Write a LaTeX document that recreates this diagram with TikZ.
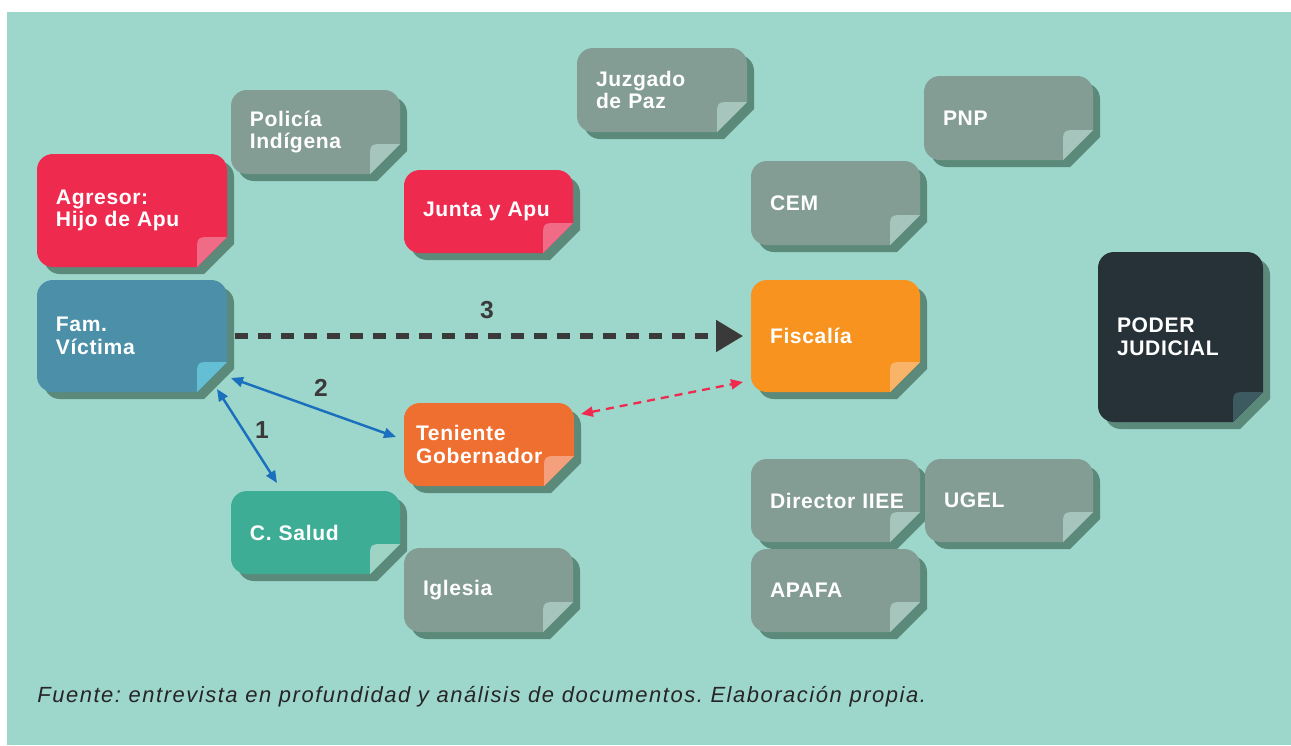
\documentclass[tikz,border=0pt]{standalone}
\usepackage{fontspec}
\setmainfont{Liberation Sans}
\newfontfamily\cardfont[LetterSpace=3]{Liberation Sans}
\newfontfamily\fuentefont[LetterSpace=7]{Liberation Sans}
\usetikzlibrary{calc,arrows.meta}
\frenchspacing

\definecolor{fondo}{HTML}{9DD6CB}
\definecolor{sombra}{HTML}{5B8A7B}
\definecolor{gris}{HTML}{839C94}
\definecolor{grisclaro}{HTML}{A6C5BC}
\definecolor{rojo}{HTML}{EE2A4F}
\definecolor{rojoclaro}{HTML}{F06B86}
\definecolor{azul}{HTML}{4B8FA8}
\definecolor{azulclaro}{HTML}{64BFD4}
\definecolor{naranja}{HTML}{F7931E}
\definecolor{naranjaclaro}{HTML}{F9B46A}
\definecolor{teniente}{HTML}{EF6F30}
\definecolor{tenienteclaro}{HTML}{F5A07C}
\definecolor{verde}{HTML}{3DAE95}
\definecolor{verdeclaro}{HTML}{9FD4C4}
\definecolor{oscuro}{HTML}{263238}
\definecolor{oscuroclaro}{HTML}{3C5A60}
\definecolor{flechaazul}{HTML}{1B70BE}
\definecolor{texto}{HTML}{3A3A3A}

\tikzset{
	card outline/.style n args={4}{
		insert path={(#1,#2+16) .. controls (#1,#2+7) and (#1+7,#2) .. (#1+16,#2)
			-- (#1+#3-16,#2) .. controls (#1+#3-7,#2) and (#1+#3,#2+7) .. (#1+#3,#2+16)
			-- (#1+#3,#2+#4-30) -- (#1+#3-30,#2+#4)
			-- (#1+16,#2+#4) .. controls (#1+7,#2+#4) and (#1,#2+#4-7) .. (#1,#2+#4-16) -- cycle}
	},
	card flap/.style n args={4}{
		insert path={(#1+#3,#2+#4-30) -- (#1+#3-15,#2+#4-30)
			.. controls (#1+#3-30,#2+#4-30) .. (#1+#3-30,#2+#4-15)
			-- (#1+#3-30,#2+#4) -- cycle}
	},
	card label/.style={
		anchor=north west,
		inner xsep=0.38cm,
		inner ysep=0pt,
		outer sep=0pt,
		text=white,
		align=left,
		font=\cardfont\bfseries\fontsize{12}{13}\selectfont
	},
	paso/.style={text=texto, font=\bfseries\fontsize{14}{14}\selectfont},
	doble azul/.style={flechaazul, line width=1.4pt,
		{Triangle[length=0.24cm,width=0.2cm]}-{Triangle[length=0.24cm,width=0.2cm]}},
	doble rojo/.style={rojo, line width=1.3pt, dash pattern=on 0.16cm off 0.12cm,
		{Triangle[length=0.24cm,width=0.2cm]}-{Triangle[length=0.24cm,width=0.2cm]}},
	paso tres/.style={texto, line width=2.9pt, dash pattern=on 0.26cm off 0.2cm,
		-{Triangle[length=0.54cm,width=0.62cm]}},
}

% \card[node options]{name}{x}{y}{width}{height}{colour}{flap colour}{text}
\newcommand{\card}[9][]{%
	\fill[sombra,shift={(7,7)}] [card outline={#3}{#4}{#5}{#6}];
	\fill[#7] [card outline={#3}{#4}{#5}{#6}];
	\fill[#8] [card flap={#3}{#4}{#5}{#6}];
	\node[card label,text width=(#5-38)*0.02cm,minimum height=#6*0.02cm,#1] (#2) at (#3,#4) {#9};
}

\begin{document}
\begin{tikzpicture}[x=0.02cm,y=-0.02cm]
\useasboundingbox (0,0) rectangle (1291,745);
\fill[fondo] (7,12) rectangle (1291,745);

% actors
\card{agresor}{37}{154}{190}{113}{rojo}{rojoclaro}{Agresor:\\Hijo de Apu}
\card{fam}{37}{280}{190}{112}{azul}{azulclaro}{Fam.\\Víctima}
\card{policia}{231}{90}{169}{84}{gris}{grisclaro}{Policía\\Indígena}
\card{junta}{404}{170}{169}{83}{rojo}{rojoclaro}{Junta y Apu}
\card{juzgado}{577}{48}{170}{84}{gris}{grisclaro}{Juzgado\\de Paz}
\card{pnp}{924}{76}{169}{84}{gris}{grisclaro}{PNP}
\card{cem}{751}{161}{169}{84}{gris}{grisclaro}{CEM}
\card{fisc}{751}{280}{169}{112}{naranja}{naranjaclaro}{Fiscalía}
\card{poder}{1098}{252}{165}{170}{oscuro}{oscuroclaro}{PODER\\JUDICIAL}
\card[inner xsep=0.24cm,text width=2.9cm]{ten}{404}{403}{170}{83}{teniente}{tenienteclaro}{Teniente\\Gobernador}
\card{salud}{231}{491}{169}{83}{verde}{verdeclaro}{C. Salud}
\card{iglesia}{404}{548}{169}{84}{gris}{grisclaro}{Iglesia}
\card[text width=2.9cm]{director}{751}{459}{169}{83}{gris}{grisclaro}{Director IIEE}
\card{ugel}{925}{459}{168}{83}{gris}{grisclaro}{UGEL}
\card{apafa}{751}{549}{169}{83}{gris}{grisclaro}{APAFA}

% routes
\draw[paso tres] ($(fam.east)+(8,0)$) -- ($(fisc.west)+(-8,0)$);
\draw[doble azul] ($(fam.south east)+(4,-14)$) -- ($(ten.north west)+(-8,34)$);
\draw[doble azul] ($(fam.south east)+(-10,-3)$) -- ($(salud.north west)+(46,-8)$);
\draw[doble rojo] ($(ten.north east)+(8,11)$) -- ($(fisc.south west)+(-8,-10)$);

\node[paso] (tres) at (487,310) {3};
\node[paso] (dos) at (321,388) {2};
\node[paso] (uno) at (262,430) {1};

\node[anchor=base west, inner sep=0pt, text=black!85, font=\fuentefont\itshape\fontsize{12.5}{14}\selectfont] (fuente) at (37,702)
	{Fuente: entrevista en profundidad y análisis de documentos. Elaboración propia.};
\end{tikzpicture}
\end{document}
